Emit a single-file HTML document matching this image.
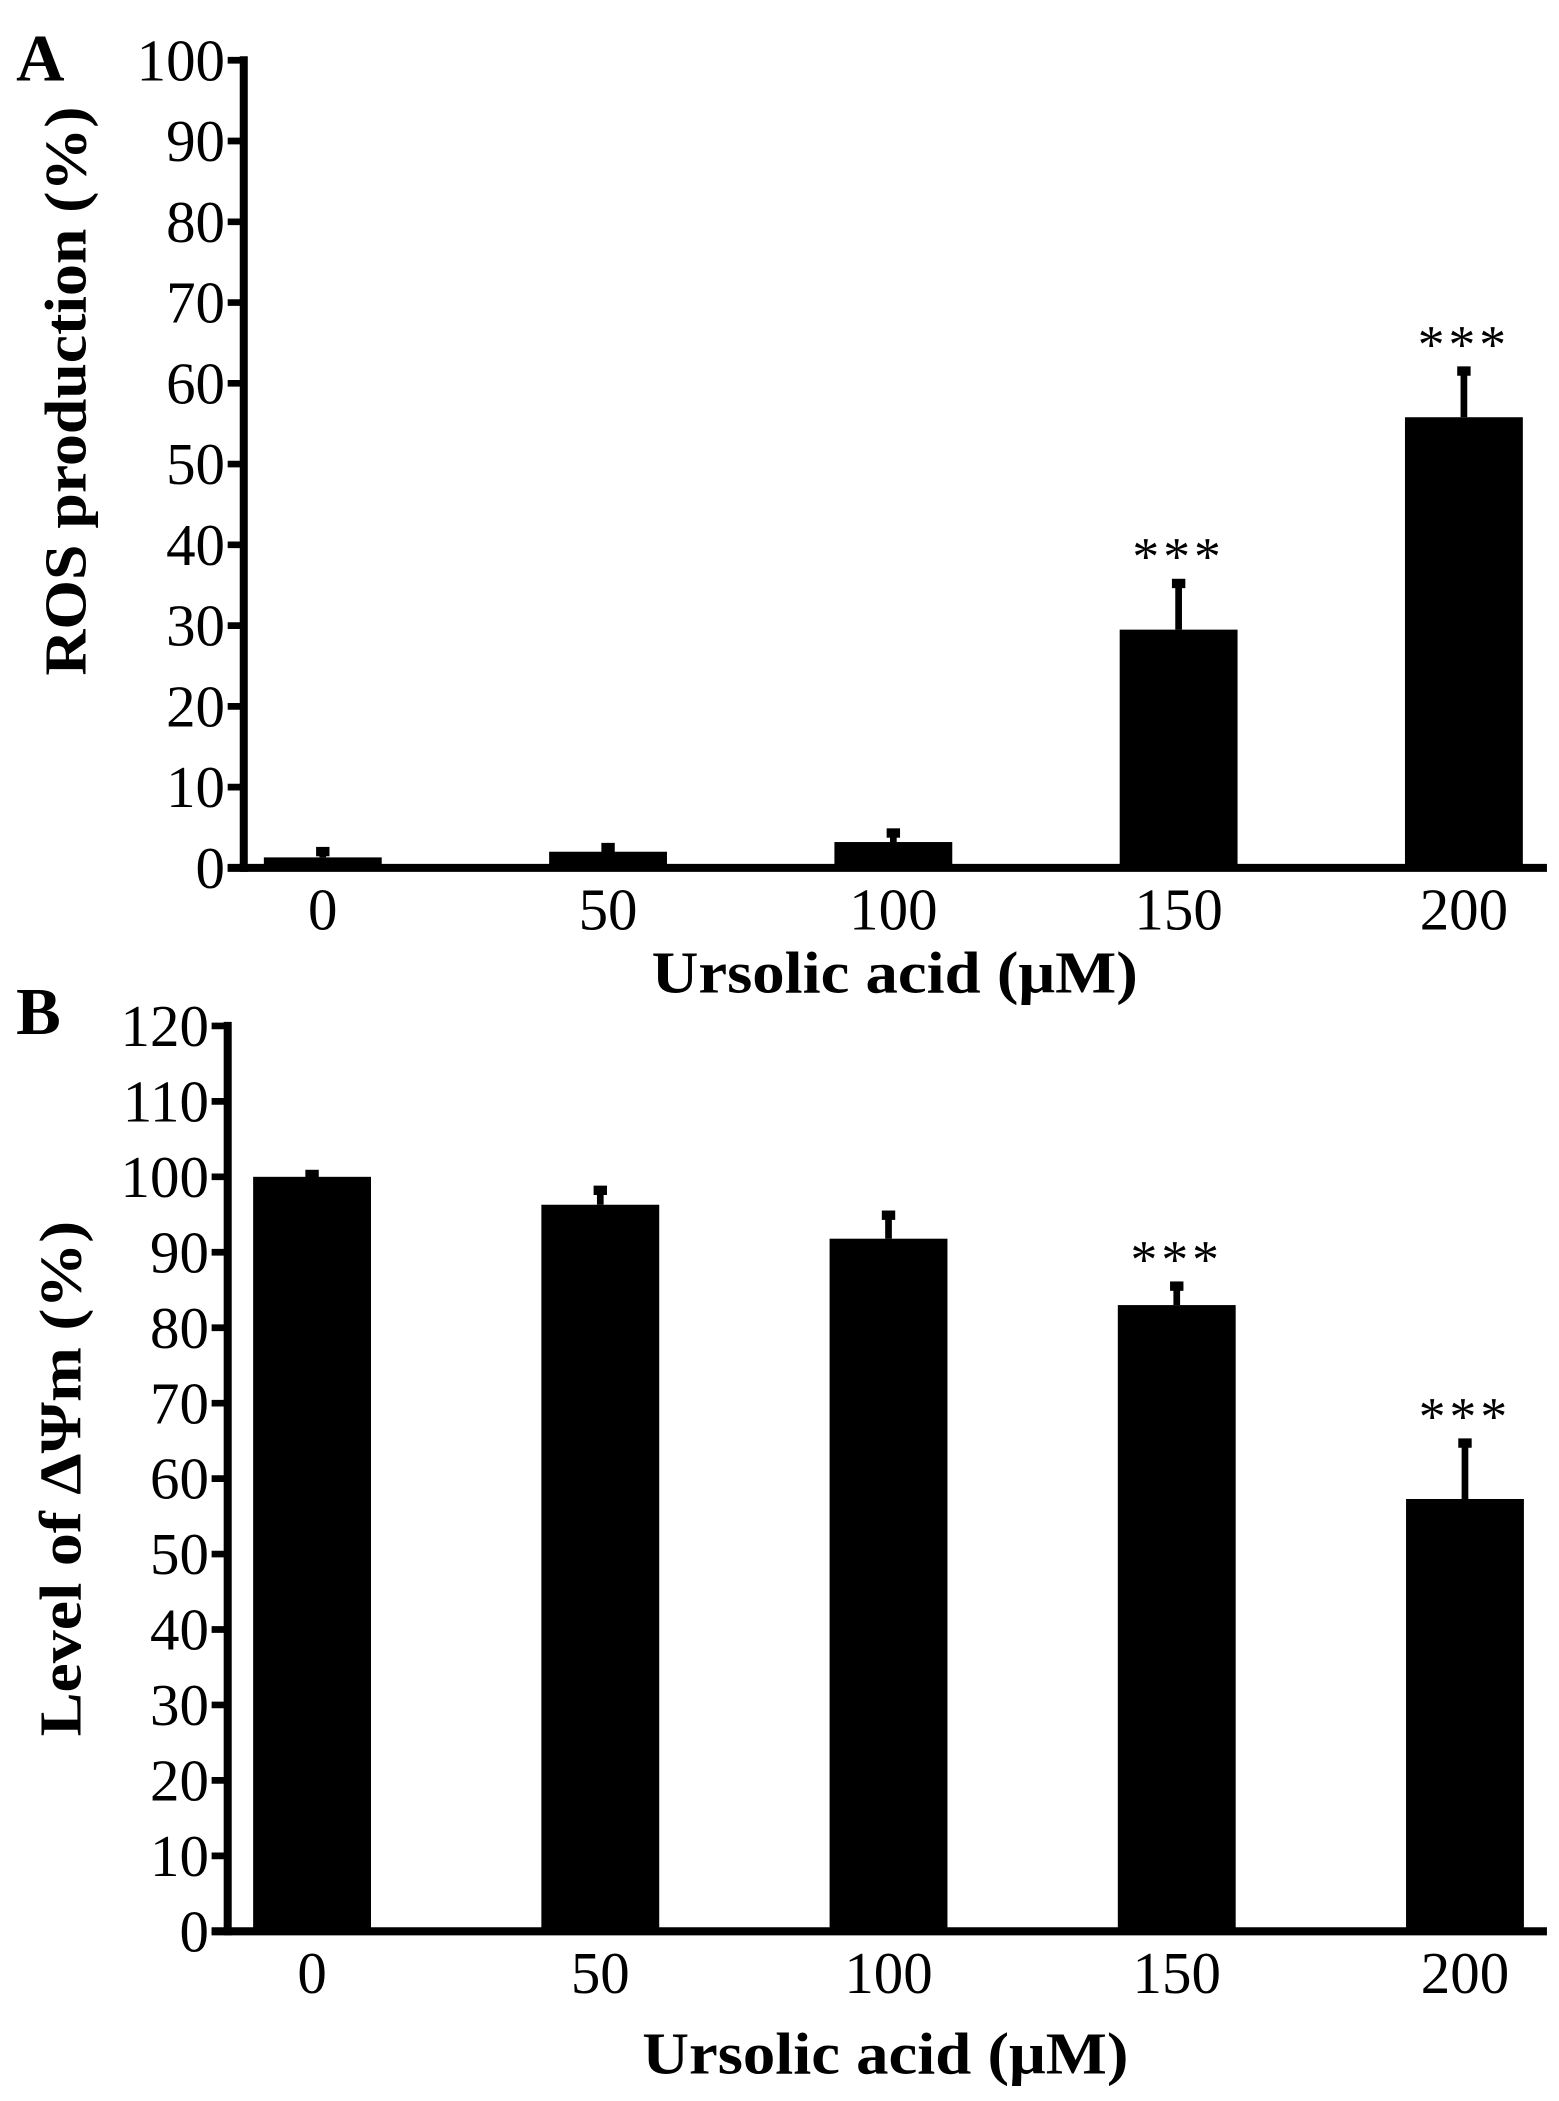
<!DOCTYPE html>
<html><head><meta charset="utf-8"><style>
html,body{margin:0;padding:0;background:#fff;}
svg{display:block;}
text{font-family:"Liberation Serif",serif;fill:#000;}
</style></head><body>
<svg id="fig" width="1559" height="2101" viewBox="0 0 1164 1568.7" preserveAspectRatio="none" xmlns="http://www.w3.org/2000/svg">
<text x="12" y="60" font-size="50" font-weight="bold">A</text>
<text x="12" y="772" font-size="50" font-weight="bold">B</text>
<text transform="translate(64,292) rotate(-90)" text-anchor="middle" font-size="44" font-weight="bold" textLength="425" lengthAdjust="spacingAndGlyphs">ROS production (%)</text>
<text x="668" y="741" text-anchor="middle" font-size="44" font-weight="bold" textLength="363" lengthAdjust="spacingAndGlyphs">Ursolic acid (μM)</text>
<text transform="translate(60,1104) rotate(-90)" text-anchor="middle" font-size="44" font-weight="bold" textLength="385" lengthAdjust="spacingAndGlyphs">Level of ΔΨm (%)</text>
<text x="661" y="1548" text-anchor="middle" font-size="44" font-weight="bold" textLength="363" lengthAdjust="spacingAndGlyphs">Ursolic acid (μM)</text>
<g id="pa"></g><g id="pb"></g>
</svg>
<script>
const categories = ["0","50","100","150","200"];
const rosValues = [1.3, 2.0, 3.2, 29.5, 55.8];
const rosErrors = [0.8, 0.6, 1.2, 5.8, 5.8];
const rosSig = ["", "", "", "***", "***"];
const rosTicks = [0,10,20,30,40,50,60,70,80,90,100];
const mmpValues = [100, 96.3, 91.8, 83.0, 57.3];
const mmpErrors = [0.4, 2.0, 3.2, 2.6, 7.5];
const mmpSig = ["", "", "", "***", "***"];
const mmpTicks = [0,10,20,30,40,50,60,70,80,90,100,110,120];

const NS = "http://www.w3.org/2000/svg";
function mk(g, tag, attrs){const e=document.createElementNS(NS,tag);for(const k in attrs)e.setAttribute(k,attrs[k]);g.appendChild(e);return e;}

function draw(gid, pfx, cfg, vals, errs, sig, ticks){
  const g=document.getElementById(gid);
  const y=v=>cfg.y0-(v-cfg.min)/(cfg.max-cfg.min)*(cfg.y0-cfg.y1);
  const x=i=>cfg.xc0+i*cfg.step;
  let e;
  e=mk(g,'line',{x1:cfg.ax,y1:y(cfg.max)-3,x2:cfg.ax,y2:cfg.y0+3,stroke:'#000','stroke-width':6});
  
  
  e=mk(g,'line',{x1:cfg.ax-12,y1:cfg.y0,x2:cfg.xEnd,y2:cfg.y0,stroke:'#000','stroke-width':6});
  
  
  ticks.forEach(t=>{
    e=mk(g,'line',{x1:cfg.ax-12,y1:y(t),x2:cfg.ax,y2:y(t),stroke:'#000','stroke-width':5});
    
    
    e=mk(g,'text',{x:cfg.ax-14,y:y(t)+15,'text-anchor':'end','font-size':44});
    e.textContent=t;
    
    
  });
  categories.forEach((c,i)=>{
    const cx=x(i), bw=cfg.bw;
    const top=vals[i]+errs[i];
    e=mk(g,'line',{x1:cx,y1:y(top),x2:cx,y2:y(vals[i]),stroke:'#000','stroke-width':5});
    
    
    e=mk(g,'rect',{x:cx-5,y:y(top)-3,width:10,height:7,fill:'#000'});
    
    
    e=mk(g,'rect',{x:cx-bw/2,y:y(vals[i]),width:bw,height:cfg.y0-y(vals[i]),fill:'#000'});
    
    
    e=mk(g,'text',{x:cx,y:cfg.y0+46,'text-anchor':'middle','font-size':44});
    e.textContent=c;
    
    
    if(sig[i]){
      e=mk(g,'text',{x:cx,y:y(top)-6,'text-anchor':'middle','font-size':40,'letter-spacing':'3'});
      e.textContent=sig[i];
      
      
    }
  });
}
draw('pa','panel-a',{ax:182,y0:648,y1:45,min:0,max:100,xc0:241,step:213,bw:88,xEnd:1155},rosValues,rosErrors,rosSig,rosTicks);
draw('pb','panel-b',{ax:170,y0:1442,y1:766,min:0,max:120,xc0:233,step:215.2,bw:88,xEnd:1155},mmpValues,mmpErrors,mmpSig,mmpTicks);
</script>
</body></html>
